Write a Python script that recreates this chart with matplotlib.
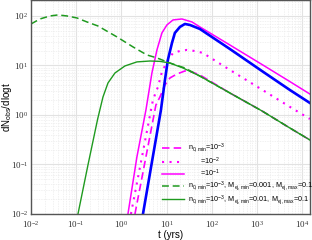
import numpy as np
import matplotlib
matplotlib.use("Agg")
import matplotlib.pyplot as plt
from matplotlib.ticker import FuncFormatter, LogLocator

plt.rcParams['font.family'] = ['Liberation Sans', 'DejaVu Sans']
plt.rcParams['mathtext.fontset'] = 'custom'
plt.rcParams['mathtext.rm'] = 'Liberation Serif'
plt.rcParams['mathtext.sf'] = 'Liberation Sans'
plt.rcParams['mathtext.it'] = 'Liberation Sans:italic'
plt.rcParams['mathtext.default'] = 'sf'

# ---- data (t in yrs, dN/dlogt) ----
late_t = [54.8, 253, 1290, 5370, 14900]

green_dash_t = [0.01, 0.0158, 0.0263, 0.0395, 0.0625, 0.104, 0.173, 0.303, 0.80,
                1.81, 3.68, 6.14, 11.9, 25.5] + late_t
green_dash_y = [68.9, 86.9, 100, 104.8, 100, 91.1, 75.7, 62.8, 37.7,
                23.7, 16.3, 14.2, 11.2, 8.9, 6.1, 2.78, 1.21, 0.546, 0.313]

green_solid_t = [0.1096, 0.1824, 0.299, 0.392, 0.506, 0.722, 1.20, 2.21, 4.29,
                 7.15, 11.9, 23.1] + late_t
green_solid_y = [0.01, 0.0977, 0.830, 2.31, 4.43, 7.05, 9.77, 11.8, 12.3,
                 12.1, 11.2, 8.9, 6.1, 2.78, 1.21, 0.546, 0.313]

mag_solid_t = [1.40, 2.21, 3.50, 4.75, 6.14, 7.91, 10.2, 13.9, 21.9, 36.5] + late_t
mag_solid_y = [0.01, 0.142, 1.26, 7.05, 20.6, 45.4, 65.8, 83.0, 86.9, 75.7,
               60.0, 25.9, 10.5, 4.73, 2.65]

blue_t = [3.01, 4.75, 7.52, 9.23, 10.7, 13.2, 15.3, 19.8, 25.5, 33.0] + late_t
blue_y = [0.01, 0.112, 1.26, 5.09, 12.9, 28.5, 45.4, 60.0, 68.9, 65.8,
          54.6, 21.5, 7.74, 3.20, 1.75]

mag_dot_t = [1.63, 2.86, 5.00, 6.46, 7.91, 10.2, 13.9, 19.8, 28.2, 42.5, 63.8,
             253, 1290, 5940, 14900]
mag_dot_y = [0.01, 0.142, 2.01, 3.68, 7.40, 11.8, 17.9, 19.6, 20.6, 19.6, 17.9,
             8.11, 3.26, 1.38, 0.830]

mag_dash_t = [2.00, 3.50, 5.82, 7.15, 9.23, 11.9, 17.0, 25.5, 36.5] + late_t
mag_dash_y = [0.01, 0.142, 1.59, 2.31, 4.04, 5.59, 6.73, 7.74, 7.40,
              6.43, 2.78, 1.21, 0.546, 0.313]

labels = [r"n$_{0,min}$=10$^{-3}$",
          r"      =10$^{-2}$",
          r"      =10$^{-1}$",
          r"n$_{0,min}$=10$^{-3}$, M$_{ej,min}$=0.001, M$_{ej,max}$=0.1",
          r"n$_{0,min}$=10$^{-3}$, M$_{ej,min}$=0.01, M$_{ej,max}$=0.1"]

MAG = '#ff00ff'
GRN = '#1f9a1f'
BLU = '#0000ff'

fig = plt.figure(figsize=(3.12, 2.4), dpi=100)
ax = fig.add_axes([31/312, 26/240, 279/312, 214/240])
ax.set_xscale('log')
ax.set_yscale('log')

l1, = ax.plot(mag_dash_t, mag_dash_y, color=MAG, lw=1.2, ls=(0, (4.5, 2.5)))
l2, = ax.plot(mag_dot_t, mag_dot_y, color=MAG, lw=1.5, ls=(0, (1, 2.6)))
l3, = ax.plot(mag_solid_t, mag_solid_y, color=MAG, lw=1.1)
ax.plot(blue_t, blue_y, color=BLU, lw=1.9)
l4, = ax.plot(green_dash_t, green_dash_y, color=GRN, lw=1.1, ls=(0, (4.5, 2.5)))
l5, = ax.plot(green_solid_t, green_solid_y, color=GRN, lw=1.0)

ax.set_xlim(1e-2, 1.5e4)
ax.set_ylim(1e-2, 210)

ax.xaxis.set_major_locator(LogLocator(base=10, numticks=20))
ax.yaxis.set_major_locator(LogLocator(base=10, numticks=20))
ax.xaxis.set_minor_locator(LogLocator(base=10, subs=np.arange(2, 10), numticks=50))
ax.yaxis.set_minor_locator(LogLocator(base=10, subs=np.arange(2, 10), numticks=50))
fmt = FuncFormatter(lambda v, p: r'$\mathrm{10^{%d}}$' % int(round(np.log10(v))))
ax.xaxis.set_major_formatter(fmt)
ax.yaxis.set_major_formatter(fmt)
ax.tick_params(which='both', direction='in', length=0, labelsize=6.5, colors='#333333', pad=2)
ax.tick_params(axis='x', pad=3.5)

ax.grid(True, which='major', color='#e2e2e2', lw=0.8)
ax.grid(True, which='minor', color='#ececec', lw=0.5, ls=(0, (2, 1.5)))
ax.set_axisbelow(True)
for s in ax.spines.values():
    s.set_color('#555555')
    s.set_linewidth(1.0)

ax.set_xlabel('t (yrs)', fontsize=7, labelpad=0)
ax.set_ylabel(r'dN$_{obs}$/dlogt', fontsize=7)
ax.yaxis.set_label_coords(-0.062, 0.5)

ax.legend([l1, l2, l3, l4, l5], labels, loc='lower left',
          bbox_to_anchor=((162 - 31) / 279, 0.035), frameon=False, fontsize=5.2,
          handlelength=3.0, handletextpad=0.6, labelspacing=0.08, borderpad=0,
          borderaxespad=0)

fig.savefig('out.png', dpi=100)
